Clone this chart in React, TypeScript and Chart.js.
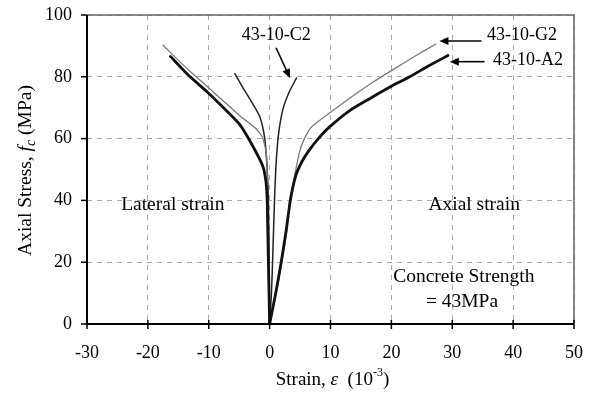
import React, { useEffect, useRef } from "react";
import { Chart, registerables } from "chart.js";

Chart.register(...registerables);

// ---- Data (strain in 10^-3, stress in MPa) ----
const xTickValues = [-30, -20, -10, 0, 10, 20, 30, 40, 50];
const yTickValues = [0, 20, 40, 60, 80, 100];

const a2AxialStrain = [0, 1.0, 1.9, 2.7, 3.4, 4.3, 5.3, 6.6, 8.0, 9.8, 13.1, 16.5, 19.7, 23.0, 26.0, 29.3];
const a2AxialStress = [0, 10, 20, 30, 40, 48, 52.5, 56.5, 60, 63.7, 69, 73, 76.6, 80, 83.4, 86.9];

const g2AxialStrain = [0, 1.1, 2.0, 2.8, 3.3, 3.8, 4.9, 5.6, 6.8, 10.0, 13.1, 17.0, 20.0, 24.0, 27.3];
const g2AxialStress = [0, 10, 20, 30, 40, 45, 55.6, 59.5, 63.6, 68.5, 73, 78.3, 82, 86.8, 90.6];

const c2AxialStrain = [0, 0.3, 0.5, 0.8, 1.1, 1.5, 2.2, 3.2, 4.4];
const c2AxialStress = [0, 10, 21, 40, 53, 62, 69.6, 75, 79.6];

const a2LateralStrain = [0, -0.1, -0.2, -0.3, -0.4, -0.6, -1.1, -2.8, -4.9, -7.5, -10.2, -13.5, -16.3];
const a2LateralStress = [0, 10, 20, 30, 40, 46, 51, 57.7, 64.5, 69.8, 75, 80.8, 86.6];

const g2LateralStrain = [0, -0.1, -0.3, -0.5, -0.8, -1.2, -2.4, -4.9, -7.5, -10.1, -13.5, -17.5];
const g2LateralStress = [0, 20, 40, 54.5, 57.7, 60.5, 63.5, 67.4, 72, 76.6, 82.5, 90.2];

const c2LateralStrain = [0, -0.1, -0.2, -0.4, -0.8, -1.6, -3.0, -4.4, -5.7];
const c2LateralStress = [0, 20, 40, 50, 60, 67, 72, 76.5, 81];

const seriesLabels = ["43-10-A2", "43-10-G2", "43-10-C2"];
const regionTexts = ["Lateral strain", "Axial strain", "Concrete Strength", "= 43MPa"];

const pts = (xs: number[], ys: number[]) => xs.map((v, i) => ({ x: v, y: ys[i] }));

const SERIF = "'Liberation Serif', 'Times New Roman', serif";

function arrow(ctx: CanvasRenderingContext2D, x1: number, y1: number, x2: number, y2: number) {
  const ang = Math.atan2(y2 - y1, x2 - x1);
  const hl = 9;
  const hw = 4;
  ctx.beginPath();
  ctx.moveTo(x1, y1);
  ctx.lineTo(x2 - Math.cos(ang) * hl * 0.8, y2 - Math.sin(ang) * hl * 0.8);
  ctx.stroke();
  ctx.beginPath();
  ctx.moveTo(x2, y2);
  ctx.lineTo(x2 - Math.cos(ang) * hl - Math.sin(ang) * hw, y2 - Math.sin(ang) * hl + Math.cos(ang) * hw);
  ctx.lineTo(x2 - Math.cos(ang) * hl + Math.sin(ang) * hw, y2 - Math.sin(ang) * hl - Math.cos(ang) * hw);
  ctx.closePath();
  ctx.fill();
}

const overlayPlugin = {
  id: "overlay",
  afterDraw(chart: any) {
    const ctx: CanvasRenderingContext2D = chart.ctx;
    const { left, right, top, bottom } = chart.chartArea;
    const xs = chart.scales.x;
    const ys = chart.scales.y;
    const X = (v: number) => xs.getPixelForValue(v);
    const Y = (v: number) => ys.getPixelForValue(v);
    ctx.save();

    // frame
    ctx.strokeStyle = "#666";
    ctx.lineWidth = 1.5;
    ctx.beginPath();
    ctx.moveTo(left, top);
    ctx.lineTo(right, top);
    ctx.lineTo(right, bottom);
    ctx.stroke();
    ctx.strokeStyle = "#000";
    ctx.lineWidth = 2;
    ctx.beginPath();
    ctx.moveTo(left, top);
    ctx.lineTo(left, bottom);
    ctx.lineTo(right, bottom);
    ctx.stroke();

    // ticks
    ctx.lineWidth = 1.5;
    xTickValues.forEach((v) => {
      const px = X(v);
      ctx.beginPath();
      ctx.moveTo(px, bottom - 4);
      ctx.lineTo(px, bottom + 5);
      ctx.stroke();
    });
    yTickValues.forEach((v) => {
      const py = Y(v);
      ctx.beginPath();
      ctx.moveTo(left - 6, py);
      ctx.lineTo(left, py);
      ctx.stroke();
    });

    ctx.fillStyle = "#000";
    ctx.textBaseline = "middle";

    // region texts
    ctx.font = `19.5px ${SERIF}`;
    ctx.textAlign = "center";
    ctx.fillText(regionTexts[0], X(-15.9), Y(38.5));
    ctx.fillText(regionTexts[1], X(33.6), Y(38.5));
    ctx.fillText(regionTexts[2], X(31.9), Y(15.3));
    ctx.fillText(regionTexts[3], X(31.6), Y(7.2));

    // series labels
    ctx.font = `18px ${SERIF}`;
    ctx.fillText(seriesLabels[2], X(1.1), Y(93.5));
    ctx.textAlign = "left";
    ctx.fillText(seriesLabels[1], X(35.7), Y(93.5));
    ctx.fillText(seriesLabels[0], X(36.7), Y(85.4));

    // arrows
    ctx.strokeStyle = "#000";
    ctx.lineWidth = 1.6;
    arrow(ctx, X(1.05), Y(89.4), X(3.35), Y(79.6));
    arrow(ctx, X(34.8), Y(91.6), X(27.9), Y(91.6));
    arrow(ctx, X(35.3), Y(84.9), X(29.6), Y(84.9));

    // x axis title: Strain, ε (10^-3)
    {
      const fs = 19;
      const cy = 380;
      const parts: { t: string; font: string; dy: number }[] = [
        { t: "Strain, ", font: `${fs}px ${SERIF}`, dy: 0 },
        { t: "ε", font: `italic ${fs}px ${SERIF}`, dy: 0 },
        { t: "  (10", font: `${fs}px ${SERIF}`, dy: 0 },
        { t: "-3", font: `${Math.round(fs * 0.65)}px ${SERIF}`, dy: -7 },
        { t: ")", font: `${fs}px ${SERIF}`, dy: 0 },
      ];
      let total = 0;
      parts.forEach((p) => {
        ctx.font = p.font;
        total += ctx.measureText(p.t).width;
      });
      let cx = (left + right) / 2 - total / 2 + 2;
      ctx.textAlign = "left";
      parts.forEach((p) => {
        ctx.font = p.font;
        ctx.fillText(p.t, cx, cy + p.dy);
        cx += ctx.measureText(p.t).width;
      });
    }

    // y axis title: Axial Stress, f_c (MPa)
    {
      const fs = 19.5;
      ctx.save();
      ctx.translate(26, (top + bottom) / 2 + 1);
      ctx.rotate(-Math.PI / 2);
      const parts: { t: string; font: string; dy: number }[] = [
        { t: "Axial Stress, ", font: `${fs}px ${SERIF}`, dy: 0 },
        { t: "f", font: `italic ${fs}px ${SERIF}`, dy: 0 },
        { t: "c", font: `italic ${Math.round(fs * 0.7)}px ${SERIF}`, dy: 5 },
        { t: " (MPa)", font: `${fs}px ${SERIF}`, dy: 0 },
      ];
      let total = 0;
      parts.forEach((p) => {
        ctx.font = p.font;
        total += ctx.measureText(p.t).width;
      });
      let cx = -total / 2;
      ctx.textAlign = "left";
      parts.forEach((p) => {
        ctx.font = p.font;
        ctx.fillText(p.t, cx, p.dy);
        cx += ctx.measureText(p.t).width;
      });
      ctx.restore();
    }

    ctx.restore();
  },
};

export default function App() {
  const canvasRef = useRef<HTMLCanvasElement | null>(null);

  useEffect(() => {
    if (!canvasRef.current) return;
    const common = { pointRadius: 0, tension: 0.2, fill: false, borderJoinStyle: "round" as const, borderCapStyle: "round" as const };
    const chart = new Chart(canvasRef.current, {
      type: "line",
      data: {
        datasets: [
          { label: "A2 axial", data: pts(a2AxialStrain, a2AxialStress), borderColor: "#111", borderWidth: 2.8, ...common },
          { label: "A2 lateral", data: pts(a2LateralStrain, a2LateralStress), borderColor: "#111", borderWidth: 2.8, ...common },
          { label: "G2 axial", data: pts(g2AxialStrain, g2AxialStress), borderColor: "#7a7a7a", borderWidth: 1.3, ...common },
          { label: "G2 lateral", data: pts(g2LateralStrain, g2LateralStress), borderColor: "#7a7a7a", borderWidth: 1.3, ...common },
          { label: "C2 axial", data: pts(c2AxialStrain, c2AxialStress), borderColor: "#222", borderWidth: 1.5, ...common },
          { label: "C2 lateral", data: pts(c2LateralStrain, c2LateralStress), borderColor: "#222", borderWidth: 1.5, ...common },
        ],
      },
      options: {
        animation: false,
        responsive: false,
        maintainAspectRatio: false,
        layout: { padding: { top: 15, right: 21, left: 0, bottom: 0 } },
        plugins: { legend: { display: false }, tooltip: { enabled: false }, title: { display: false } },
        scales: {
          x: {
            type: "linear",
            min: -30,
            max: 50,
            afterBuildTicks: (s: any) => {
              s.ticks = xTickValues.map((v) => ({ value: v }));
            },
            afterFit: (s: any) => {
              s.height = 70;
              s.paddingLeft = 0;
              s.paddingRight = 0;
            },
            grid: { color: "#aaa", lineWidth: 1, drawTicks: false },
            border: { display: false, dash: [5, 5] },
            ticks: { color: "#000", padding: 18, font: { family: SERIF, size: 18 }, maxRotation: 0 },
          },
          y: {
            type: "linear",
            min: 0,
            max: 100,
            afterBuildTicks: (s: any) => {
              s.ticks = yTickValues.map((v) => ({ value: v }));
            },
            afterFit: (s: any) => {
              s.width = 87;
              s.paddingTop = 0;
              s.paddingBottom = 0;
            },
            grid: { color: "#aaa", lineWidth: 1, drawTicks: false },
            border: { display: false, dash: [5, 5] },
            ticks: { color: "#000", padding: 15, font: { family: SERIF, size: 18 } },
          },
        },
      },
      plugins: [overlayPlugin],
    });
    return () => chart.destroy();
  }, []);

  return (
    <div style={{ position: "absolute", left: 0, top: 0, width: 595, height: 394, background: "#fff" }}>
      <canvas ref={canvasRef} width={595} height={394} />
    </div>
  );
}
